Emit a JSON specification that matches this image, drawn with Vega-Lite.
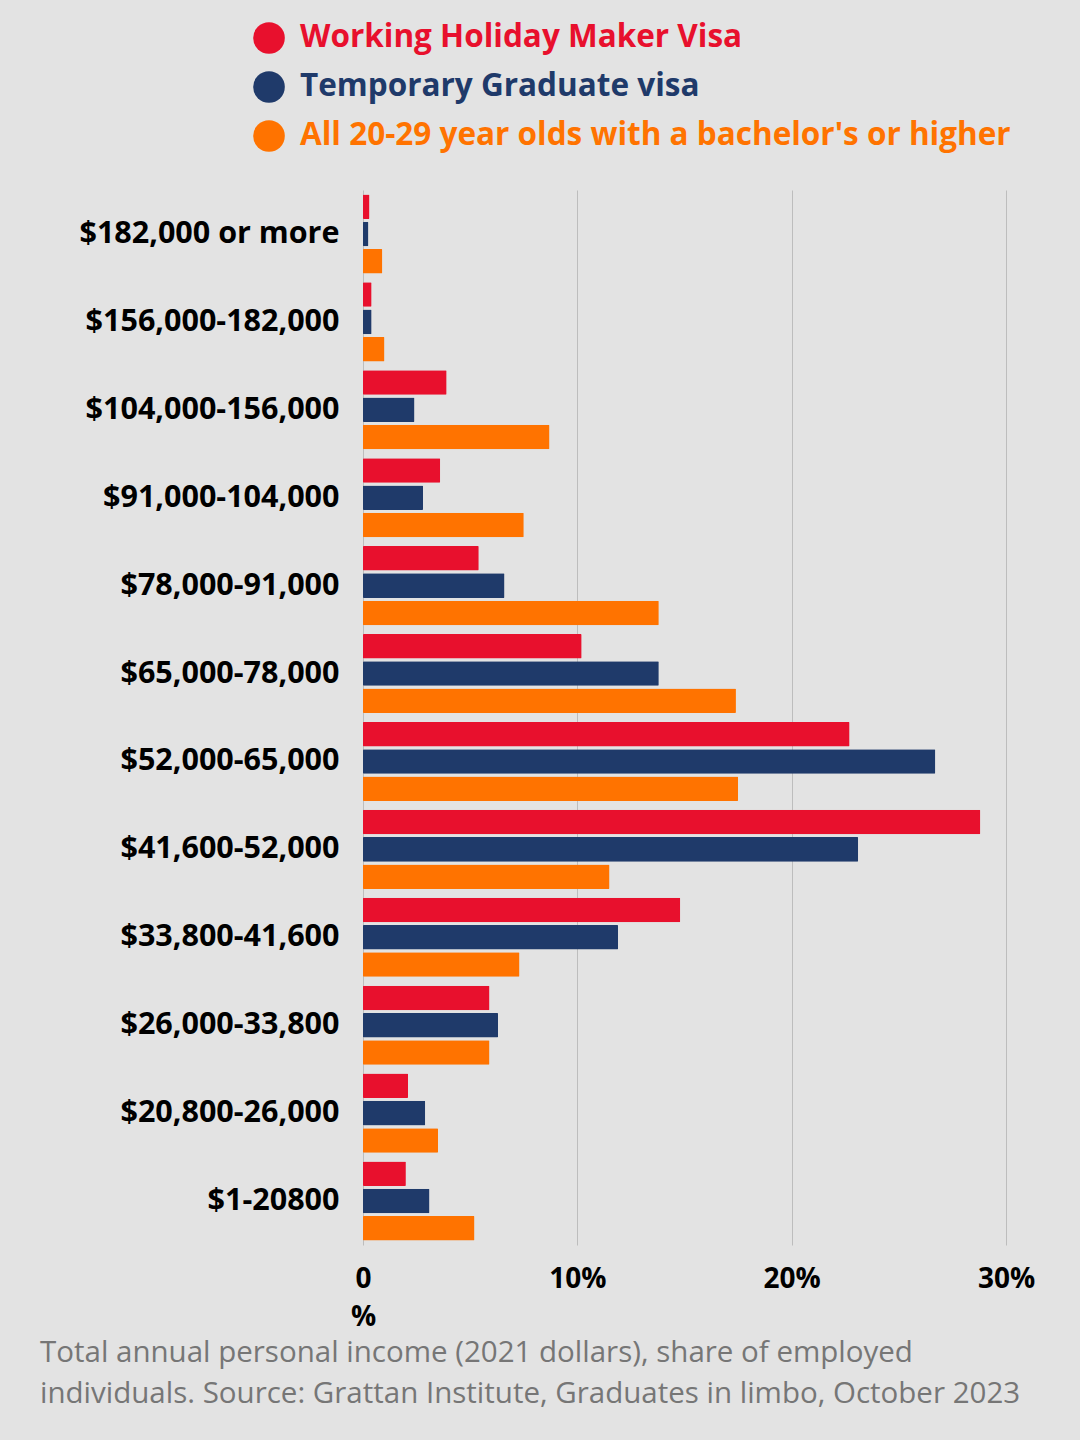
{
  "$schema": "https://vega.github.io/schema/vega-lite/v6.json",
  "autosize": "none",
  "width": 643,
  "height": 1055,
  "padding": {"left": 363, "top": 190, "right": 74, "bottom": 195},
  "background": "#e3e3e3",
  "config": {
    "view": {"stroke": null},
    "font": "Open Sans"
  },
  "title": {
    "text": ["Total annual personal income (2021 dollars), share of employed", "individuals.  Source: Grattan Institute, Graduates in limbo, October 2023"],
    "orient": "bottom",
    "anchor": "start",
    "frame": "group",
    "dx": -323,
    "offset": 8,
    "fontSize": 29.5,
    "fontWeight": "normal",
    "font": "Open Sans",
    "color": "#767676",
    "lineHeight": 41
  },
  "data": {
    "values": [
      {"income": "$182,000 or more", "series": "Working Holiday Maker Visa", "pct": 0.3},
      {"income": "$182,000 or more", "series": "Temporary Graduate visa", "pct": 0.25},
      {"income": "$182,000 or more", "series": "All 20-29 year olds with a bachelor's or higher", "pct": 0.9},
      {"income": "$156,000-182,000", "series": "Working Holiday Maker Visa", "pct": 0.4},
      {"income": "$156,000-182,000", "series": "Temporary Graduate visa", "pct": 0.4},
      {"income": "$156,000-182,000", "series": "All 20-29 year olds with a bachelor's or higher", "pct": 1.0},
      {"income": "$104,000-156,000", "series": "Working Holiday Maker Visa", "pct": 3.9},
      {"income": "$104,000-156,000", "series": "Temporary Graduate visa", "pct": 2.4},
      {"income": "$104,000-156,000", "series": "All 20-29 year olds with a bachelor's or higher", "pct": 8.7},
      {"income": "$91,000-104,000", "series": "Working Holiday Maker Visa", "pct": 3.6},
      {"income": "$91,000-104,000", "series": "Temporary Graduate visa", "pct": 2.8},
      {"income": "$91,000-104,000", "series": "All 20-29 year olds with a bachelor's or higher", "pct": 7.5},
      {"income": "$78,000-91,000", "series": "Working Holiday Maker Visa", "pct": 5.4},
      {"income": "$78,000-91,000", "series": "Temporary Graduate visa", "pct": 6.6},
      {"income": "$78,000-91,000", "series": "All 20-29 year olds with a bachelor's or higher", "pct": 13.8},
      {"income": "$65,000-78,000", "series": "Working Holiday Maker Visa", "pct": 10.2},
      {"income": "$65,000-78,000", "series": "Temporary Graduate visa", "pct": 13.8},
      {"income": "$65,000-78,000", "series": "All 20-29 year olds with a bachelor's or higher", "pct": 17.4},
      {"income": "$52,000-65,000", "series": "Working Holiday Maker Visa", "pct": 22.7},
      {"income": "$52,000-65,000", "series": "Temporary Graduate visa", "pct": 26.7},
      {"income": "$52,000-65,000", "series": "All 20-29 year olds with a bachelor's or higher", "pct": 17.5},
      {"income": "$41,600-52,000", "series": "Working Holiday Maker Visa", "pct": 28.8},
      {"income": "$41,600-52,000", "series": "Temporary Graduate visa", "pct": 23.1},
      {"income": "$41,600-52,000", "series": "All 20-29 year olds with a bachelor's or higher", "pct": 11.5},
      {"income": "$33,800-41,600", "series": "Working Holiday Maker Visa", "pct": 14.8},
      {"income": "$33,800-41,600", "series": "Temporary Graduate visa", "pct": 11.9},
      {"income": "$33,800-41,600", "series": "All 20-29 year olds with a bachelor's or higher", "pct": 7.3},
      {"income": "$26,000-33,800", "series": "Working Holiday Maker Visa", "pct": 5.9},
      {"income": "$26,000-33,800", "series": "Temporary Graduate visa", "pct": 6.3},
      {"income": "$26,000-33,800", "series": "All 20-29 year olds with a bachelor's or higher", "pct": 5.9},
      {"income": "$20,800-26,000", "series": "Working Holiday Maker Visa", "pct": 2.1},
      {"income": "$20,800-26,000", "series": "Temporary Graduate visa", "pct": 2.9},
      {"income": "$20,800-26,000", "series": "All 20-29 year olds with a bachelor's or higher", "pct": 3.5},
      {"income": "$1-20800", "series": "Working Holiday Maker Visa", "pct": 2.0},
      {"income": "$1-20800", "series": "Temporary Graduate visa", "pct": 3.1},
      {"income": "$1-20800", "series": "All 20-29 year olds with a bachelor's or higher", "pct": 5.2}
    ]
  },
  "mark": {"type": "bar", "cornerRadius": 1},
  "encoding": {
    "y": {
      "field": "income",
      "type": "nominal",
      "sort": null,
      "scale": {"paddingInner": 0.1, "paddingOuter": 0.05},
      "axis": {
        "title": null,
        "domain": false,
        "ticks": false,
        "labelPadding": 24,
        "labelFontSize": 30.5,
        "labelFontWeight": "bold",
        "labelColor": "#000000",
        "labelFont": "Open Sans",
        "labelLimit": 400
      }
    },
    "yOffset": {
      "field": "series",
      "type": "nominal",
      "sort": ["Working Holiday Maker Visa", "Temporary Graduate visa", "All 20-29 year olds with a bachelor's or higher"],
      "scale": {"paddingInner": 0.1}
    },
    "x": {
      "field": "pct",
      "type": "quantitative",
      "scale": {"domain": [0, 30]},
      "axis": {
        "values": [0, 10, 20, 30],
        "labelExpr": "datum.value == 0 ? '0' : datum.value + '%'",
        "title": "%",
        "titleAnchor": "start",
        "titleAlign": "center",
        "titleFontSize": 28,
        "titleFontWeight": "bold",
        "titleColor": "#000000",
        "titlePadding": 10,
        "domain": false,
        "ticks": false,
        "labelPadding": 20,
        "labelFontSize": 28,
        "labelFontWeight": "bold",
        "labelColor": "#000000",
        "labelFlush": false,
        "gridColor": "#bdbdbd",
        "gridWidth": 1
      }
    },
    "color": {
      "field": "series",
      "type": "nominal",
      "scale": {
        "domain": ["Working Holiday Maker Visa", "Temporary Graduate visa", "All 20-29 year olds with a bachelor's or higher"],
        "range": ["#e8102d", "#1f3a6a", "#ff7300"]
      },
      "legend": {
        "orient": "none",
        "legendX": -110,
        "legendY": -168,
        "title": null,
        "symbolType": "circle",
        "symbolSize": 1000,
        "symbolStrokeWidth": 0,
        "symbolOpacity": 1,
        "labelFontSize": 31.5,
        "labelFontWeight": "bold",
        "labelFont": "Open Sans",
        "labelLimit": 900,
        "labelOffset": 15,
        "rowPadding": 17,
        "encode": {
          "labels": {"update": {"fill": {"scale": "color", "field": "value"}}}
        }
      }
    }
  }
}
